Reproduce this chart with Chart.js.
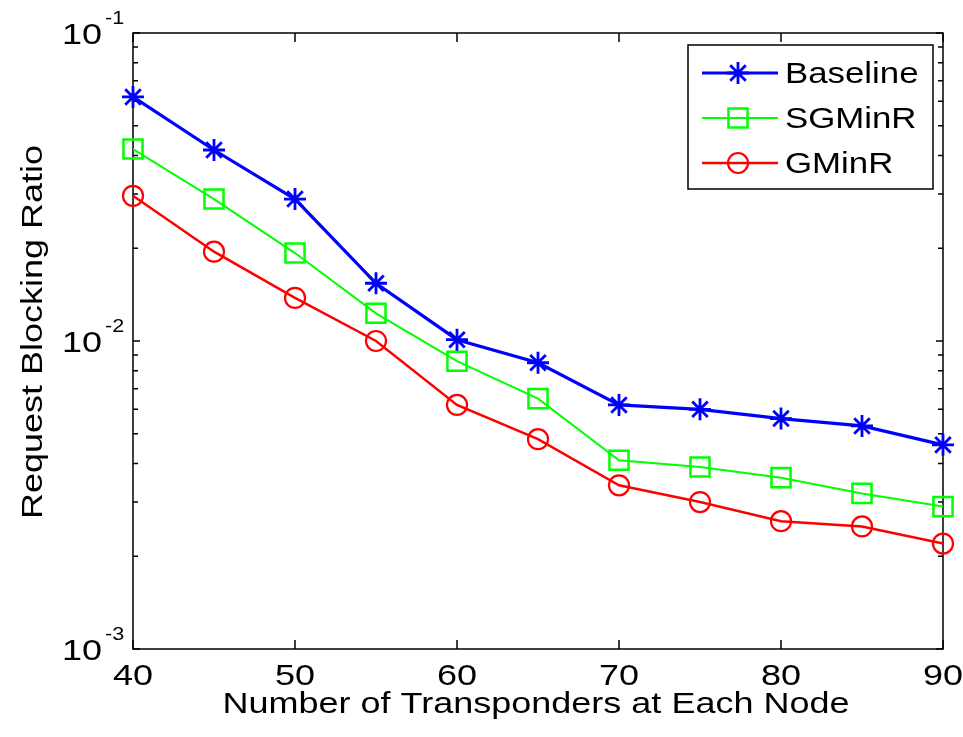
<!DOCTYPE html>
<html>
<head>
<meta charset="utf-8">
<script src="https://cdn.jsdelivr.net/npm/chart.js@4.4.0/dist/chart.umd.min.js"></script>
<style>
  body { margin: 0; background: #fff; }
  #wrap { width: 963px; height: 737px; }
</style>
</head>
<body>
<div id="wrap"><canvas id="chart"></canvas></div>
<script>
/* ---------------- DATA ---------------- */
const transponders = [40, 45, 50, 55, 60, 65, 70, 75, 80, 85, 90];
const baseline = [0.0620, 0.0417, 0.0289, 0.0154, 0.0101, 0.0085, 0.0062, 0.0060, 0.0056, 0.0053, 0.0046];
const sgminr   = [0.0420, 0.0289, 0.0193, 0.0123, 0.0086, 0.0065, 0.0041, 0.0039, 0.0036, 0.0032, 0.0029];
const gminr    = [0.0296, 0.0195, 0.0138, 0.0100, 0.0062, 0.0048, 0.0034, 0.0030, 0.0026, 0.0025, 0.0022];
const xTicks     = [40, 50, 60, 70, 80, 90];
const yDecades   = [-3, -2, -1];          // major labels 10^n
const yMinorMult = [2, 3, 4, 5, 6, 7, 8, 9];
const xTitle = 'Number of Transponders at Each Node';
const yTitle = 'Request Blocking Ratio';
/* -------------------------------------- */

const FONT = "'Liberation Sans', Arial, sans-serif";
const STRETCH = 1.2;   // the original lettering is wide

const pts = arr => transponders.map((x, i) => ({ x, y: arr[i] }));

// text helper: wide lettering, optional rotation
function wideText(ctx, txt, x, y, size, align, rot) {
    ctx.save();
    ctx.translate(x, y);
    if (rot) ctx.rotate(rot);
    ctx.scale(STRETCH, 1);
    ctx.font = `${size}px ${FONT}`;
    ctx.fillStyle = '#000';
    ctx.textAlign = align;
    ctx.textBaseline = 'alphabetic';
    ctx.fillText(txt, 0, 0);
    ctx.restore();
}

/* MATLAB style box, inward ticks, labels */
const axesBox = {
    id: 'axesBox',
    beforeDatasetsDraw(chart) {
        const { ctx, chartArea: ca, scales: { x, y } } = chart;
        ctx.save();
        ctx.strokeStyle = '#000';
        ctx.lineWidth = 1.5;
        ctx.strokeRect(ca.left, ca.top, ca.right - ca.left, ca.bottom - ca.top);

        ctx.beginPath();
        xTicks.forEach(v => {
            const px = x.getPixelForValue(v);
            ctx.moveTo(px, ca.bottom); ctx.lineTo(px, ca.bottom - 9);
            ctx.moveTo(px, ca.top);    ctx.lineTo(px, ca.top + 9);
        });
        yDecades.forEach((d, i) => {
            const py = y.getPixelForValue(Math.pow(10, d));
            ctx.moveTo(ca.left, py);  ctx.lineTo(ca.left + 7, py);
            ctx.moveTo(ca.right, py); ctx.lineTo(ca.right - 7, py);
            if (i === yDecades.length - 1) return;
            yMinorMult.forEach(m => {
                const pm = y.getPixelForValue(m * Math.pow(10, d));
                ctx.moveTo(ca.left, pm);  ctx.lineTo(ca.left + 5, pm);
                ctx.moveTo(ca.right, pm); ctx.lineTo(ca.right - 5, pm);
            });
        });
        ctx.stroke();
        ctx.restore();
    },
    afterDraw(chart) {
        const { ctx, chartArea: ca, scales: { x, y } } = chart;
        // x tick labels
        xTicks.forEach(v => wideText(ctx, String(v), x.getPixelForValue(v), ca.bottom + 36, 30, 'center'));
        // y tick labels 10^n
        yDecades.forEach(d => {
            const py = y.getPixelForValue(Math.pow(10, d));
            wideText(ctx, '10', ca.left - 31, py + 11, 30, 'right');
            wideText(ctx, '-' + Math.abs(d), ca.left - 28, py - 9, 18, 'left');
        });
        // axis titles
        wideText(ctx, xTitle, (ca.left + ca.right) / 2 - 2, ca.bottom + 64, 30, 'center');
        wideText(ctx, yTitle, 42, 332, 30, 'center', -Math.PI / 2);
    }
};

/* legend with line + marker, like the original */
const lineLegend = {
    id: 'lineLegend',
    afterDatasetsDraw(chart) {
        const { ctx, chartArea: ca } = chart;
        const w = 245, h = 144;
        const x0 = ca.right - 10 - w, y0 = ca.top + 12;
        ctx.save();
        ctx.fillStyle = '#fff';
        ctx.fillRect(x0, y0, w, h);
        ctx.strokeStyle = '#000';
        ctx.lineWidth = 1.5;
        ctx.strokeRect(x0, y0, w, h);

        chart.data.datasets.forEach((ds, i) => {
            const ry = y0 + 28 + i * 45;
            ctx.strokeStyle = ds.borderColor;
            ctx.lineWidth = ds.borderWidth;
            ctx.beginPath();
            ctx.moveTo(x0 + 14, ry);
            ctx.lineTo(x0 + 90, ry);
            ctx.stroke();
            ctx.fillStyle = 'rgba(0,0,0,0)';
            ctx.lineWidth = ds.pointBorderWidth;
            Chart.helpers.drawPoint(ctx, {
                pointStyle: ds.pointStyle,
                radius: ds.pointRadius,
                borderWidth: ds.pointBorderWidth,
                rotation: 0
            }, x0 + 50, ry);

            wideText(ctx, ds.label, x0 + 97, ry + 10, 29, 'left');
        });
        ctx.restore();
    }
};

new Chart(document.getElementById('chart'), {
    type: 'line',
    data: {
        datasets: [
            {
                label: 'Baseline', data: pts(baseline),
                borderColor: '#0000ff', backgroundColor: 'rgba(0,0,0,0)',
                borderWidth: 3.2, pointStyle: 'star', pointRadius: 11,
                pointBorderWidth: 2.8, pointBorderColor: '#0000ff', clip: false
            },
            {
                label: 'SGMinR', data: pts(sgminr),
                borderColor: '#00ff00', backgroundColor: 'rgba(0,0,0,0)',
                borderWidth: 2, pointStyle: 'rect', pointRadius: 13.5,
                pointBorderWidth: 2.5, pointBorderColor: '#00ff00', clip: false
            },
            {
                label: 'GMinR', data: pts(gminr),
                borderColor: '#ff0000', backgroundColor: 'rgba(0,0,0,0)',
                borderWidth: 2.5, pointStyle: 'circle', pointRadius: 10,
                pointBorderWidth: 2.2, pointBorderColor: '#ff0000', clip: false
            }
        ]
    },
    options: {
        responsive: true,
        maintainAspectRatio: false,
        animation: false,
        layout: { padding: { top: 33, right: 20, left: 0, bottom: 0 } },
        plugins: {
            legend: { display: false },
            tooltip: { enabled: false }
        },
        elements: { line: { tension: 0 } },
        scales: {
            x: {
                type: 'linear',
                min: 40, max: 90,
                afterFit: s => { s.height = 88; },
                ticks: { display: false },
                grid: { display: false, drawTicks: false },
                border: { display: false }
            },
            y: {
                type: 'logarithmic',
                min: 0.001, max: 0.1,
                afterFit: s => { s.width = 133; },
                ticks: { display: false },
                grid: { display: false, drawTicks: false },
                border: { display: false }
            }
        }
    },
    plugins: [axesBox, lineLegend]
});
</script>
</body>
</html>
